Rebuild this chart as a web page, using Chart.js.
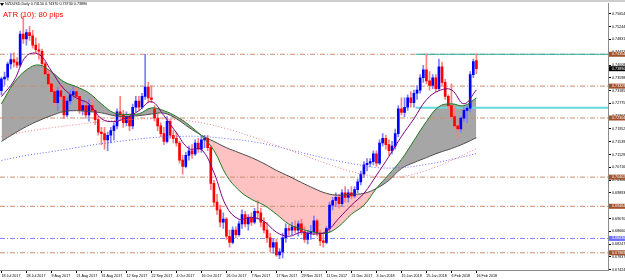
<!DOCTYPE html>
<html>
<head>
<meta charset="utf-8">
<script src="https://cdn.jsdelivr.net/npm/chart.js@4.4.1/dist/chart.umd.min.js"></script>
<style>
  body { margin: 0; background: #fff; }
  #wrap { position: relative; width: 625px; height: 280px; overflow: hidden; }
  #tri { position: absolute; left: 0px; top: 3px; width: 0; height: 0;
         border-left: 2px solid transparent; border-right: 2px solid transparent; border-top: 3px solid #000; }
  #title { position: absolute; left: 5px; top: 2px; font: 7.4px 'Liberation Sans', Arial, sans-serif; line-height: 8px;
           color: #000; transform: scale(0.5); transform-origin: 0 0; white-space: nowrap; }
  #atr { position: absolute; left: 3px; top: 9.5px; font: 7.8px 'Liberation Sans', Arial, sans-serif; line-height: 10px;
         color: #ff0000; white-space: nowrap; }
</style>
</head>
<body>
<div id="wrap">
  <canvas id="chart" width="625" height="280"></canvas>
  <div id="tri"></div>
  <div id="title">NZDUSD,Daily  0.74150 0.74370 0.73730 0.73890</div>
  <div id="atr">ATR (10): 80 pips</div>
</div>
<script>
// daily bars, 18 Jul 2017 .. 16 Feb 2018 (bar index 0..152)
var opens = [
  .7318,.7356,.7362,.7404,.7418,.7410,.7400,.7500,.7485,.7505,
  .7495,.7465,.7450,.7445,.7405,.7372,.7340,.7315,.7280,.7318,
  .7300,.7240,.7285,.7305,.7315,.7300,.7255,.7270,.7240,.7270,
  .7255,.7225,.7185,.7180,.7160,.7175,.7190,.7205,.7250,.7240,
  .7215,.7235,.7205,.7265,.7285,.7265,.7300,.7330,.7295,.7260,
  .7230,.7205,.7180,.7155,.7220,.7175,.7165,.7150,.7095,.7075,
  .7110,.7125,.7115,.7150,.7130,.7160,.7165,.7135,.7020,.6960,
  .6935,.6895,.6905,.6850,.6830,.6870,.6855,.6890,.6920,.6890,
  .6910,.6895,.6930,.6925,.6895,.6870,.6845,.6815,.6830,.6790,
  .6800,.6845,.6875,.6870,.6880,.6870,.6890,.6865,.6840,.6860,
  .6865,.6900,.6860,.6835,.6830,.6875,.6950,.6965,.6975,.6955,
  .6990,.6975,.6990,.6980,.7000,.7025,.7050,.7080,.7085,.7090,
  .7115,.7085,.7150,.7165,.7145,.7125,.7140,.7180,.7260,.7248,
  .7265,.7295,.7280,.7310,.7320,.7360,.7385,.7350,.7335,.7360,
  .7325,.7395,.7345,.7300,.7270,.7235,.7205,.7195,.7230,.7255,
  .7262,.7370,.7415
];
var highs = [
  .7362,.7378,.7410,.7438,.7440,.7425,.7510,.7558,.7515,.7525,
  .7512,.7488,.7470,.7452,.7410,.7385,.7350,.7325,.7330,.7335,
  .7305,.7295,.7320,.7335,.7330,.7310,.7285,.7285,.7290,.7290,
  .7270,.7235,.7200,.7200,.7185,.7200,.7215,.7260,.7300,.7255,
  .7250,.7245,.7275,.7300,.7300,.7310,.7435,.7345,.7335,.7270,
  .7245,.7215,.7200,.7235,.7225,.7190,.7185,.7155,.7110,.7120,
  .7140,.7145,.7160,.7165,.7170,.7175,.7175,.7140,.7030,.6985,
  .6950,.6925,.6910,.6870,.6880,.6880,.6900,.6935,.6930,.6920,
  .6925,.6940,.6965,.6940,.6910,.6895,.6860,.6840,.6840,.6810,
  .6860,.6890,.6885,.6895,.6900,.6900,.6905,.6880,.6870,.6885,
  .6915,.6905,.6870,.6860,.6880,.6960,.6975,.6990,.6985,.7000,
  .7010,.7000,.7010,.7010,.7035,.7060,.7090,.7100,.7100,.7125,
  .7125,.7160,.7180,.7175,.7160,.7155,.7195,.7270,.7295,.7295,
  .7305,.7315,.7320,.7335,.7370,.7400,.7437,.7380,.7370,.7370,
  .7420,.7410,.7355,.7305,.7340,.7265,.7225,.7235,.7265,.7270,
  .7380,.7420,.7437
];
var lows = [
  .7305,.7336,.7352,.7388,.7395,.7392,.7395,.7470,.7465,.7480,
  .7455,.7440,.7420,.7395,.7365,.7330,.7305,.7270,.7255,.7290,
  .7228,.7235,.7275,.7290,.7290,.7245,.7240,.7230,.7220,.7250,
  .7210,.7175,.7145,.7130,.7125,.7150,.7160,.7195,.7225,.7200,
  .7205,.7190,.7195,.7250,.7255,.7260,.7290,.7280,.7280,.7220,
  .7190,.7170,.7145,.7150,.7165,.7150,.7140,.7085,.7050,.7070,
  .7095,.7100,.7110,.7120,.7120,.7135,.7125,.7000,.6945,.6920,
  .6880,.6875,.6840,.6815,.6825,.6845,.6850,.6875,.6880,.6870,
  .6885,.6890,.6905,.6880,.6860,.6830,.6800,.6795,.6785,.6778,
  .6780,.6830,.6855,.6855,.6860,.6850,.6855,.6830,.6825,.6840,
  .6855,.6850,.6820,.6815,.6825,.6865,.6935,.6945,.6940,.6945,
  .6960,.6960,.6970,.6975,.6990,.7015,.7040,.7060,.7075,.7080,
  .7075,.7080,.7140,.7130,.7110,.7115,.7130,.7170,.7240,.7235,
  .7255,.7265,.7265,.7290,.7310,.7345,.7340,.7320,.7325,.7315,
  .7320,.7335,.7290,.7260,.7225,.7195,.7168,.7185,.7220,.7215,
  .7250,.7360,.7373
];
var closes = [
  .7356,.7362,.7404,.7418,.7410,.7400,.7500,.7485,.7505,.7495,
  .7465,.7450,.7445,.7405,.7372,.7340,.7315,.7280,.7318,.7300,
  .7240,.7285,.7305,.7315,.7300,.7255,.7270,.7240,.7270,.7255,
  .7225,.7185,.7180,.7160,.7175,.7190,.7205,.7250,.7240,.7215,
  .7235,.7205,.7265,.7285,.7265,.7300,.7330,.7295,.7290,.7230,
  .7205,.7180,.7155,.7220,.7175,.7165,.7150,.7095,.7075,.7110,
  .7125,.7115,.7150,.7130,.7160,.7165,.7135,.7020,.6960,.6935,
  .6895,.6905,.6850,.6830,.6870,.6855,.6890,.6920,.6890,.6910,
  .6895,.6930,.6925,.6895,.6870,.6845,.6815,.6830,.6790,.6800,
  .6845,.6875,.6870,.6880,.6870,.6890,.6865,.6840,.6860,.6865,
  .6900,.6860,.6835,.6830,.6875,.6950,.6965,.6975,.6955,.6990,
  .6975,.6990,.6980,.7000,.7025,.7050,.7080,.7085,.7090,.7115,
  .7085,.7150,.7165,.7145,.7125,.7140,.7180,.7260,.7248,.7265,
  .7295,.7280,.7310,.7320,.7360,.7385,.7350,.7335,.7360,.7325,
  .7395,.7345,.7300,.7270,.7235,.7205,.7195,.7230,.7255,.7262,
  .7370,.7412,.7389
];

// moving averages, one value every 4 bars
var maIdx = [0,4,8,12,16,20,24,28,32,36,40,44,48,52,56,60,64,68,72,76,
             80,84,88,92,96,100,104,108,112,116,120,124,128,132,136,140,144,148,152];
var maFast = [.7299,.7350,.7430,.7435,.7382,.7324,.7295,.7276,.7228,.7219,
              .7231,.7254,.7283,.7238,.7183,.7132,.7129,.7055,.6946,.6905,
              .6911,.6898,.6863,.6850,.6863,.6857,.6866,.6908,.6950,.6988,
              .7046,.7107,.7171,.7228,.7289,.7318,.7321,.7276,.7321];
var maMid = [.7276,.7343,.7385,.7401,.7379,.7347,.7331,.7311,.7276,.7247,
             .7242,.7244,.7263,.7254,.7235,.7208,.7173,.7126,.7046,.6998,
             .6969,.6950,.6921,.6889,.6873,.6863,.6860,.6882,.6921,.6950,
             .7004,.7049,.7097,.7158,.7219,.7267,.7276,.7270,.7295];
var maSlow = [.7155,.7180,.7203,.7222,.7238,.7251,.7254,.7251,.7247,.7238,
              .7235,.7238,.7243,.7246,.7228,.7200,.7175,.7155,.7135,.7119,
              .7103,.7084,.7062,.7043,.7023,.7004,.6988,.6982,.6985,.6988,
              .7004,.7030,.7068,.7087,.7103,.7119,.7132,.7148,.7167];
// dotted averages, one value every 8 bars
var dotIdx = [0,8,16,24,32,40,48,56,64,72,80,88,96,104,112,120,128,136,144,152];
var maPink = [.7171,.7187,.7199,.7209,.7219,.7225,.7228,.7225,.7215,.7196,
              .7171,.7142,.7113,.7084,.7058,.7042,.7042,.7062,.7094,.7132];
var maBlue = [.7094,.7110,.7122,.7135,.7148,.7158,.7167,.7171,.7171,.7164,
              .7155,.7139,.7119,.7100,.7084,.7071,.7071,.7081,.7097,.7116];

// horizontal levels
var brownLevels = [0.74354, 0.73329, 0.72304, 0.70402, 0.69464, 0.67969];
var blueLevels = [0.68430];
var cyanLevels = [0.74354, 0.72634];
var cyanFromBar = 132.5;

// axis labels
var xTickIdx = [0,8,16,24,32,40,48,56,64,72,80,88,96,104,112,120,128,136,144,152];
var xTickLabels = ['18 Jul 2017','28 Jul 2017','9 Aug 2017','21 Aug 2017','31 Aug 2017',
  '12 Sep 2017','22 Sep 2017','4 Oct 2017','16 Oct 2017','26 Oct 2017','7 Nov 2017',
  '17 Nov 2017','29 Nov 2017','11 Dec 2017','21 Dec 2017','3 Jan 2018','15 Jan 2018',
  '25 Jan 2018','6 Feb 2018','16 Feb 2018'];
var yTickVals = [0.75654,0.75244,0.74831,0.74421,0.74008,0.73598,0.73185,0.72775,0.72362,
  0.71952,0.71539,0.71129,0.70716,0.70306,0.69893,0.69483,0.69070,0.68660,0.68247,0.67837,0.67424];

var xMin = -0.45, xMax = 194.1;
var yMin = 0.67415, yMax = 0.75996;
var tickFont = { family: 'Liberation Sans', size: 3.7 };

function pts(idx, vals){
  return vals.map(function(v, k){ return { x: idx[k], y: v }; });
}

var wicks = [], bodies = [], wickCol = [], bodyCol = [];
for (var i = 0; i < closes.length; i++) {
  var up = closes[i] >= opens[i];
  wicks.push({ x: i, y: [lows[i], highs[i]] });
  bodies.push({ x: i, y: [opens[i], closes[i]] });
  wickCol.push(up ? '#7f7fff' : '#ff7f7f');
  bodyCol.push(up ? '#0000ff' : '#ff0000');
}

var datasets = [
  { type: 'line', data: pts(maIdx, maMid), borderColor: '#1f7a1f', borderWidth: 1, pointRadius: 0, tension: 0.4,
    fill: { target: 1, above: '#a6a6a6', below: '#ffc2c2' }, order: 3 },
  { type: 'line', data: pts(maIdx, maSlow), borderColor: '#4a4a4a', borderWidth: 1, pointRadius: 0, tension: 0.4, fill: false, order: 3 },
  { type: 'line', data: pts(dotIdx, maPink), borderColor: '#f08080', borderWidth: 1, borderDash: [1, 2], pointRadius: 0, tension: 0.4, fill: false, order: 4 },
  { type: 'line', data: pts(dotIdx, maBlue), borderColor: '#6464ff', borderWidth: 1, borderDash: [1, 2], pointRadius: 0, tension: 0.4, fill: false, order: 4 },
  { type: 'line', data: pts(maIdx, maFast), borderColor: '#800080', borderWidth: 1, pointRadius: 0, tension: 0.4, fill: false, order: 1 },
  { type: 'bar', data: wicks, backgroundColor: wickCol, barThickness: 1, grouped: false, order: 7 },
  { type: 'bar', data: bodies, backgroundColor: bodyCol, barThickness: 2, minBarLength: 1, grouped: false, order: 6 }
];

brownLevels.forEach(function(v){
  datasets.push({ type: 'line', data: [{x: xMin, y: v}, {x: xMax, y: v}], borderColor: '#c98d6c', borderWidth: 1,
    borderDash: [5, 2, 1, 2], pointRadius: 0, fill: false, order: 9 });
});
blueLevels.forEach(function(v){
  datasets.push({ type: 'line', data: [{x: xMin, y: v}, {x: xMax, y: v}], borderColor: '#8080ff', borderWidth: 1,
    borderDash: [5, 2, 1, 2], pointRadius: 0, fill: false, order: 9 });
});
cyanLevels.forEach(function(v, k){
  datasets.push({ type: 'line', data: [{x: cyanFromBar, y: v}, {x: xMax, y: v}], borderColor: k ? '#66d9d9' : '#20b2aa',
    borderWidth: k ? 2 : 1, pointRadius: 0, fill: false, order: 8 });
});

// price tags on the right scale + window frame
var priceTags = {
  id: 'priceTags',
  afterDraw: function(chart){
    var ctx = chart.ctx, ys = chart.scales.y, area = chart.chartArea;
    function tag(v, color){
      var py = ys.getPixelForValue(v);
      ctx.fillStyle = color;
      ctx.fillRect(area.right + 1, py - 2.5, 17, 5);
      ctx.fillStyle = '#fff';
      ctx.font = '3.7px "Liberation Sans"';
      ctx.textBaseline = 'middle';
      ctx.textAlign = 'left';
      ctx.fillText(v.toFixed(5), area.right + 4, py);
    }
    ctx.save();
    brownLevels.forEach(function(v){ tag(v, '#a0522d'); });
    blueLevels.forEach(function(v){ tag(v, '#7070ff'); });
    tag(closes[closes.length - 1], '#000');
    ctx.fillStyle = '#cdcdcd';
    ctx.fillRect(0, 0, chart.width, 2);
    ctx.restore();
  }
};

var chart = new Chart(document.getElementById('chart'), {
  type: 'line',
  data: { datasets: datasets },
  options: {
    responsive: false,
    animation: false,
    devicePixelRatio: 1,
    layout: { padding: { top: 2, left: 0, right: 0, bottom: 0 } },
    plugins: {
      legend: { display: false },
      tooltip: { enabled: false },
      filler: { drawTime: 'beforeDatasetsDraw' }
    },
    scales: {
      x: {
        type: 'linear', min: xMin, max: xMax, offset: false,
        grid: { drawOnChartArea: false, tickLength: 3, color: '#000', offset: false },
        border: { color: '#8c8c8c' },
        ticks: { font: tickFont, color: '#000', padding: 1, align: 'start', maxRotation: 0, autoSkip: false,
          callback: function(v){ var k = xTickIdx.indexOf(v); return k >= 0 ? xTickLabels[k] : ''; } },
        afterBuildTicks: function(axis){ axis.ticks = xTickIdx.map(function(v){ return { value: v }; }); },
        afterFit: function(axis){ axis.height = 10; }
      },
      y: {
        type: 'linear', position: 'right', min: yMin, max: yMax,
        grid: { drawOnChartArea: false, tickLength: 3, color: '#000' },
        border: { color: '#8c8c8c' },
        ticks: { font: tickFont, color: '#000', padding: 1, autoSkip: false,
          callback: function(v){ return v.toFixed(5); } },
        afterBuildTicks: function(axis){ axis.ticks = yTickVals.map(function(v){ return { value: v }; }); },
        afterFit: function(axis){ axis.width = 17; }
      }
    }
  },
  plugins: [priceTags]
});
</script>
</body>
</html>
